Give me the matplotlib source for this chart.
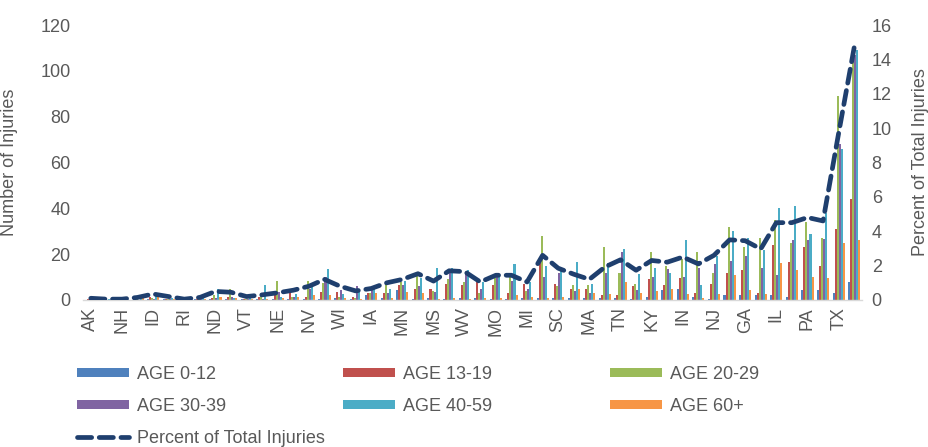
import matplotlib
matplotlib.use("Agg")
import matplotlib.pyplot as plt
import numpy as np

plt.rcParams['font.family'] = ['Liberation Sans', 'DejaVu Sans']

states = ["AK", "WY", "NH", "DE", "ID", "MT", "RI", "HI", "ND", "SD",
          "VT", "ME", "NE", "NM", "NV", "UT", "WI", "KS", "IA", "AR",
          "MN", "OR", "MS", "CT", "WV", "OK", "MO", "CO", "MI", "AL",
          "SC", "LA", "MA", "WA", "TN", "MD", "KY", "VA", "IN", "AZ",
          "NJ", "NC", "GA", "OH", "IL", "NY", "PA", "FL", "TX", "CA"]

age_0_12 = [0, 0.3, 0, 0, 0.3, 0.3, 0, 0.3, 0.3, 0.5,
            0.3, 0.3, 0.5, 0.3, 0.5, 0.5, 1, 0.5, 2, 1,
            4.5, 0.5, 1, 0.5, 1, 1, 0.5, 0.5, 1, 1,
            1, 1, 1, 1, 1, 0.5, 1.4, 4.5, 5, 1.5,
            0.5, 2.4, 2, 2, 2, 1.5, 4.3, 4.3, 3, 8]
age_13_19 = [0.3, 0, 0.3, 0.3, 1.5, 0.5, 0.5, 0.5, 1, 1.5,
             0.5, 1.5, 2, 3, 1.5, 3.5, 3.5, 1.5, 3, 3,
             6.5, 5, 5, 7, 6.5, 8, 6.5, 3, 7, 17,
             7, 5, 5, 2, 2, 6, 9, 6.5, 9.4, 3,
             7, 12, 13, 3, 24, 16.5, 23, 15, 31, 44]
age_20_29 = [0.3, 0.3, 0.3, 0.3, 1, 0.5, 0.3, 0.5, 2, 5,
             0.5, 2, 8.5, 1.5, 8.5, 7.5, 1.5, 1, 3, 7,
             8, 11, 4, 9, 8, 3, 9.5, 12, 4, 28,
             6, 6.5, 6.5, 23, 12, 7, 21, 15, 18, 21,
             12, 32, 23, 27, 35, 25, 34, 27, 89, 105]
age_30_39 = [0, 0, 0.3, 0, 0.5, 0.3, 0.3, 0.3, 1, 1.5,
             0.5, 0.5, 3.5, 1.5, 5, 10, 4.5, 6, 5.5, 3,
             6.5, 6, 3.5, 13.5, 12, 5, 10, 8.5, 5, 10,
             12, 4, 3, 12, 21, 4.3, 10, 13.7, 10, 14,
             15.5, 17, 19, 14, 11, 26, 26, 26.5, 68, 107]
age_40_59 = [0.3, 0.3, 0, 0.3, 2, 1, 0.5, 1, 5, 1,
             1.5, 6.5, 1.5, 2.5, 7, 13.5, 2.5, 4.5, 5, 5,
             8.5, 9.5, 14, 14, 13, 8, 10, 15.5, 8, 15,
             14, 16.5, 7, 16, 22.3, 11.5, 14, 12, 26, 6.5,
             19, 30, 27, 22, 40, 41, 29, 38, 66, 109]
age_60_plus = [0.5, 0, 0.3, 2, 2, 0.3, 0, 0.5, 1.5, 1,
               0.3, 0.5, 1, 1.5, 2, 2, 1, 0.5, 3, 1,
               3.5, 3, 0.5, 1, 0.5, 1, 1, 2, 1.5, 1,
               1.5, 5, 3, 2.6, 8, 3, 4, 5, 2.5, 1,
               2.5, 11, 4.3, 2.5, 16, 13, 10, 9.5, 25, 26]
percent_total = [0.1, 0.05, 0.05, 0.15, 0.35, 0.2, 0.05, 0.15, 0.5, 0.45,
                 0.2, 0.3, 0.42, 0.57, 0.8, 1.2, 0.8, 0.53, 0.67, 1.0,
                 1.2, 1.53, 1.1, 1.7, 1.65, 1.05, 1.44, 1.44, 1.05, 2.6,
                 1.85, 1.5, 1.2, 1.92, 2.34, 1.73, 2.3, 2.2, 2.5, 2.1,
                 2.6, 3.5, 3.45, 2.97, 4.5, 4.5, 4.8, 4.6, 9.7, 14.7]

series_names = ["AGE 0-12", "AGE 13-19", "AGE 20-29", "AGE 30-39", "AGE 40-59", "AGE 60+"]
series_vals = [age_0_12, age_13_19, age_20_29, age_30_39, age_40_59, age_60_plus]
colors = ["#4F81BD", "#C0504D", "#9BBB59", "#8064A2", "#4BACC6", "#F79646"]
line_color = "#1F3F6E"
text_color = "#595959"

W, H = 929, 447
fig = plt.figure(figsize=(W / 100, H / 100), dpi=100)
L, R, T, B = 83, 862, 25, 300
ax = fig.add_axes([L / W, 1 - B / H, (R - L) / W, (B - T) / H])
ax2 = ax.twinx()

x = np.arange(len(states))
bw = 0.13
bars = []
for k, (name, vals, c) in enumerate(zip(series_names, series_vals, colors)):
    b = ax.bar(x + (k - 2.5) * bw, vals, width=bw, color=c, label=name, linewidth=0)
    bars.append(b)

line, = ax2.plot(x, percent_total, color=line_color, lw=3.4, ls=(0, (3, 1.6)),
                 dash_capstyle='round', label="Percent of Total Injuries")

ax.set_xlim(-0.5, len(states) - 0.5)
ax.set_ylim(0, 120)
ax.set_yticks(np.arange(0, 121, 20))
ax2.set_ylim(0, 16)
ax2.set_yticks(np.arange(0, 17, 2))

ax.set_xticks(x[::2])
ax.set_xticklabels(states[::2], rotation=90)

fs = 13
for a in (ax, ax2):
    for s in a.spines.values():
        s.set_visible(False)
    a.tick_params(length=0, labelsize=fs, labelcolor=text_color)
ax.spines['bottom'].set_visible(True)
ax.spines['bottom'].set_color("#D9D9D9")
ax.spines['bottom'].set_linewidth(1)
ax.tick_params(axis='y', pad=9)
ax.tick_params(axis='x', pad=5)
ax2.tick_params(axis='y', pad=7)

ax.set_ylabel("Number of Injuries", fontsize=fs, color=text_color)
ax.yaxis.set_label_coords(-0.083, 0.5)
ax2.set_ylabel("Percent of Total Injuries", fontsize=fs, color=text_color, rotation=90)
ax2.yaxis.set_label_coords(1.064, 0.5)

# legend in three columns
cols = [([bars[0], bars[3], line], [series_names[0], series_names[3], "Percent of Total Injuries"], 77),
        ([bars[1], bars[4]], [series_names[1], series_names[4]], 343),
        ([bars[2], bars[5]], [series_names[2], series_names[5]], 610)]
for hs, ls_, xpx in cols:
    leg = fig.legend(hs, ls_, loc='upper left', bbox_to_anchor=(xpx / W, 1 - 366 / H),
                     frameon=False, fontsize=fs, handlelength=2.88, handleheight=0.4,
                     handletextpad=0.44, labelspacing=0.82, borderpad=0, borderaxespad=0,
                     labelcolor=text_color)

fig.savefig("out.png", dpi=100)
